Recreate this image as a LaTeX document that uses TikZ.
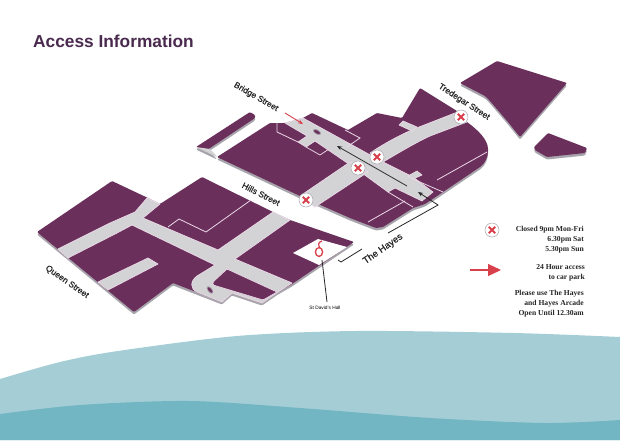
\documentclass[tikz,border=0pt]{standalone}
\usepackage{fontspec}
\setmainfont{Liberation Serif}
\setsansfont{Liberation Sans}
\newfontfamily\streetfont[FakeBold=0.5]{Liberation Sans}
\usetikzlibrary{shapes.geometric}
\usetikzlibrary{shapes.misc}
\usetikzlibrary{arrows.meta}

\definecolor{titlepurple}{HTML}{4A2A4E}
\definecolor{blockpurple}{HTML}{6B2F5C}
\definecolor{roadgrey}{HTML}{D3D3D6}
\definecolor{sidegrey}{HTML}{A8A4AC}
\definecolor{edgepink}{HTML}{EAD8E6}
\definecolor{signred}{HTML}{D8404C}
\definecolor{seapale}{HTML}{A4CDD6}
\definecolor{seadeep}{HTML}{71B6C2}

% Outlines of the map, used twice (side and top)
\newcommand{\upperoutline}{(303,118) -- (312,113) -- (348,130) -- (377,113) -- (402,118) -- (420,88) -- (457,111) -- (467,122) .. controls (478,130) and (488,140) .. (488,150) .. controls (488,157) and (485,163) .. (480,167) -- (443,192) -- (425,204) -- (413,208) -- (383,227) -- (376,228) -- (350,218) -- (300,196) -- (217,157) -- (270,123) -- (285,123) -- cycle}
\newcommand{\lowermapoutline}{(37,232) -- (112,181) -- (148,198) -- (160,204) -- (202,177) -- (273,212) -- (290,220) -- (354,242) -- (292,284) -- (278,292) -- (262,303) -- (232,293) -- (222,302) -- (173,283) -- (134,312) -- cycle}
\newcommand{\stripoutline}{(196,147) -- (250,112) -- (255,115) -- (255,118) -- (210,148) -- (207,150) -- cycle}
\newcommand{\bigrightoutline}{(460,83) -- (497,61) -- (567,83) -- (520,137) -- (508,122) -- (490,101) -- (485,96) -- cycle}
\newcommand{\smallrightoutline}{(534,147) -- (548,133) -- (587,148) -- (585,153) -- (547,157) -- (535,150) -- cycle}

\begin{document}
\begin{tikzpicture}[x=1pt,y=-1pt]
        % Define styles for shapes
        \tikzstyle{sideface} = [fill=sidegrey, yshift=-2.5pt, rounded corners=1pt]
        \tikzstyle{topface} = [fill=blockpurple, rounded corners=1pt]
        \tikzstyle{roadway} = [fill=roadgrey, draw=edgepink, line width=0.7pt, line join=round]
        \tikzstyle{plotline} = [draw=edgepink, line width=0.8pt]
        \tikzstyle{oval} = [draw=sidegrey, fill=blockpurple, line width=0.8pt, ellipse, minimum width=8pt, minimum height=4pt, inner sep=0pt]
        \tikzstyle{closedring} = [circle, draw=sidegrey, fill=white, line width=0.5pt, minimum size=14pt, inner sep=0pt]
        \tikzstyle{closedcross} = [cross out, draw=signred, line width=1.9pt, minimum size=4.5pt, inner sep=0pt]
        \tikzstyle{streetname} = [font=\streetfont\fontsize{8.5}{10}\selectfont, text=black!85]
        \tikzstyle{legendtext} = [font=\bfseries\fontsize{7.6}{10}\selectfont, align=right, anchor=north east, inner sep=0pt, text=black!85]
        \tikzstyle{leader} = [draw=black!85, line width=0.8pt]

        \useasboundingbox (0,0) rectangle (620,440);
        \fill[white] (0,0) rectangle (620,440);

        % Sea
        \fill[seapale] (0,379) plot[smooth] coordinates {(0,379) (60,362) (118,351) (237,336) (356,331) (514,333) (620,337)} -- (620,440) -- (0,440) -- cycle;
        \fill[seadeep] (0,414) plot[smooth] coordinates {(0,414) (80,405) (190,401) (300,408) (430,418) (545,423) (620,420)} -- (620,440) -- (0,440) -- cycle;

        % Side faces
        \fill[sideface] \upperoutline;
        \fill[sideface] \lowermapoutline;
        \fill[sideface] \stripoutline;
        \fill[sideface] \bigrightoutline;
        \fill[sideface] \smallrightoutline;
        \fill[sideface] (196,147) -- (210,149) -- (217,157) -- cycle;

        % Top faces
        \fill[topface] \upperoutline;
        \fill[topface] \lowermapoutline;
        \fill[topface] \stripoutline;
        \fill[topface] \bigrightoutline;
        \fill[topface] \smallrightoutline;

        % Roads of the upper block
        \fill[roadgrey] (196,147) -- (210,149) -- (215,154) -- (217,157) -- cycle;
        \path[roadway] (285,123) -- (303,118) -- (383,162) -- (413,177) -- (433,192) -- (422,201) -- (395,188) -- (388,192) -- (362,173) -- (315,141) -- (306,147) -- (298,142) -- (307,136) -- cycle;
        \path[roadway] (350,162) -- (368,172) -- (315,207) -- (300,196) -- cycle;
        \path[roadway] (370,153) .. controls (385,143) and (400,135) .. (414,129) -- (455,113) -- (467,122) -- (430,136) .. controls (415,143) and (400,152) .. (383,162) -- cycle;
        \path[roadway] (403,121) -- (417,127) -- (412,131) -- (399,125) -- cycle;
        \path[roadway] (408,176) -- (417,171) -- (422,175) -- (413,179) -- cycle;

        % Roads of the lower block
        \path[roadway] (58,249) -- (110,223) -- (135,212) -- (147,198) -- (160,204) -- (143,218) -- (218,250) -- (273,212) -- (290,220) -- (235,259) -- (292,283) -- (278,292) -- (262,303) -- (232,293) -- (222,302) -- (197,292) .. controls (190,289) and (190,281) .. (197,276) -- (215,265) -- (132,225) -- (117,233) -- (68,258) -- cycle;
        \path[roadway] (98,282) -- (148,258) -- (158,264) -- (108,290) -- cycle;
        \fill[topface, draw=edgepink, line width=0.7pt] (213,282) -- (227,269) -- (277,292) -- (263,300) -- (213,285) -- cycle;
        \fill[white] (293,253) -- (318,239) -- (347,247) -- (319,265) -- cycle;

        % Plot lines inside the blocks
        \draw[plotline] (277,123) -- (277,132) -- (298,142);
        \draw[plotline] (306,147) -- (320,155) -- (329,149);
        \draw[plotline] (345,130) -- (360,138) -- (347,147);
        \draw[plotline] (388,192) -- (413,207);
        \draw[plotline] (368,222) -- (405,201);
        \draw[plotline] (413,179) -- (443,192);
        \draw[plotline] (437,180) -- (487,152);
        \draw[plotline] (168,227) -- (179,219) -- (206,232) -- (251,200);

        \node[oval, rotate=-30] (ovalupper) at (317,132) {};
        \node[oval, rotate=-50] (ovallower) at (210,290) {};

        % Hall logo
        \draw[signred, line width=1.3pt] (319,252) circle [x radius=3.6, y radius=4.4];
        \draw[signred, line width=1.2pt] (322,241) .. controls (318,242) and (318,245) .. (320,248);

        % Leaders and arrows
        \coordinate (hallfoot) at (322,260);
        \coordinate (hallhead) at (327,302);
        \draw[leader] (hallfoot) -- (hallhead);
        \node[font=\sffamily\fontsize{4.8}{6}\selectfont, inner sep=0pt] (hallname) at (325,308) {St David's Hall};
        \coordinate (hayesa) at (338,260);
        \coordinate (hayesb) at (341,262);
        \coordinate (hayesc) at (362,249);
        \draw[leader] (hayesa) -- (hayesb) -- (hayesc);
        \coordinate (walkstart) at (407,186);
        \coordinate (walkend) at (337,146);
        \draw[leader, -{Stealth[length=5pt,width=4pt]}] (walkstart) -- (walkend);
        \coordinate (arcadea) at (388,233);
        \coordinate (arcadeb) at (438,205);
        \coordinate (arcadec) at (418,192);
        \draw[leader, -{Stealth[length=5pt,width=4pt]}] (arcadea) -- (arcadeb) -- (arcadec);
        \coordinate (parkstart) at (285,113);
        \coordinate (parkend) at (303,124);
        \draw[signred, line width=0.9pt, -{Stealth[length=5pt,width=4pt]}] (parkstart) -- (parkend);

        % Closed signs
        \foreach \pos/\nm in {(306,200)/a, (358,168)/b, (377,157)/c, (461,117)/d, (492,230)/e} {
            \node[closedring] (ring\nm) at \pos {};
            \node[closedcross] (cross\nm) at (ring\nm) {};
        }

        % Street names
        \node[streetname, rotate=-30] (bridge) at (256,97) {Bridge Street};
        \node[streetname, rotate=-27] (hills) at (261,194) {Hills Street};
        \node[streetname, rotate=-33] (tredegar) at (464,102) {Tredegar Street};
        \node[streetname, rotate=-35] (queen) at (67,282) {Queen Street};
        \node[streetname, rotate=35, font=\streetfont\fontsize{9.5}{12}\selectfont] (hayes) at (383,249) {The Hayes};

        % Title
        \node[anchor=base west, inner sep=0pt, text=titlepurple, font=\sffamily\bfseries\fontsize{17.3}{22}\selectfont] (title) at (33,47) {Access Information};

        % Legend
        \node[legendtext] (legendclosed) at (584,226) {Closed 9pm Mon-Fri\\6.30pm Sat\\5.30pm Sun};
        \node[legendtext] (legendopen) at (585,264) {24 Hour access\\to car park};
        \node[legendtext] (legenduse) at (584,290) {Please use The Hayes\\and Hayes Arcade\\Open Until 12.30am};
        \coordinate (keystart) at (470,270);
        \coordinate (keyend) at (501,270);
        \draw[signred, line width=1.1pt, -{Triangle[length=13pt,width=12pt]}] (keystart) -- (keyend);
\end{tikzpicture}
\end{document}
